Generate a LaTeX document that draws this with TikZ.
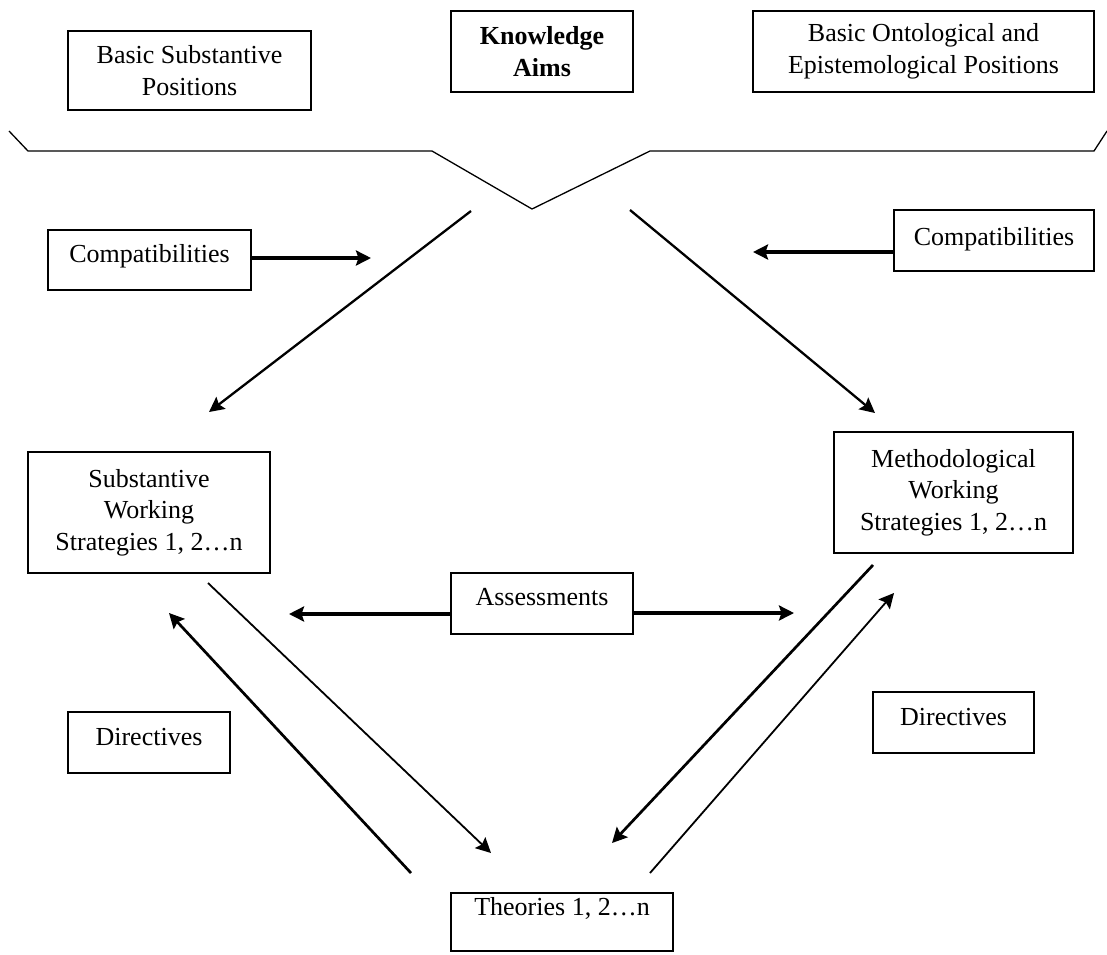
\documentclass[tikz,border=0pt]{standalone}
\usepackage{fontspec}
\setmainfont{Liberation Serif}
\usetikzlibrary{arrows.meta}
\begin{document}
\begin{tikzpicture}[x=1pt,y=-1pt,
  txt/.style={font=\fontsize{26pt}{31.5pt}\selectfont},
  box/.style={txt, draw, line width=1.9pt, inner sep=0pt},
  multibox/.style={box, align=center},
  onebox/.style={box, anchor=base},
  brace/.style={line width=1.3pt, line join=miter},
  tip/.style={-{Stealth[length=15pt,width=15pt,inset=2.5pt]}},
  link/.style={tip, line width=2.3pt},
  thinlink/.style={tip, line width=1.8pt},
  boldlink/.style={tip, line width=3.2pt}
]
\useasboundingbox (0,0) rectangle (1107,954);

% top row of positions and aims
\node[multibox, minimum width=243pt, minimum height=79pt] (bsp) at (189.5,70.5)
  {Basic Substantive\\Positions};
\node[multibox, minimum width=182pt, minimum height=81pt,
  font=\fontsize{26pt}{31.5pt}\selectfont\bfseries] (ka) at (542,51.5)
  {Knowledge\\Aims};
\node[multibox, minimum width=341pt, minimum height=81pt] (bo) at (923.5,51.5)
  {Basic Ontological and\\Epistemological Positions};

% brace gathering the three top boxes
\coordinate (b1) at (9,131);
\coordinate (b2) at (28,151);
\coordinate (b3) at (432,151);
\coordinate (bt) at (532,209);
\coordinate (b4) at (650,151);
\coordinate (b5) at (1094,151);
\coordinate (b6) at (1107,131);
\draw[brace] (b1) -- (b2) -- (b3) -- (bt) -- (b4) -- (b5) -- (b6);

% compatibility labels
\node[onebox, minimum width=203pt, text height=32pt, text depth=28pt] (compL) at (149.5,262) {Compatibilities};
\node[onebox, minimum width=200pt, text height=35pt, text depth=26pt] (compR) at (994,245) {Compatibilities};
\coordinate (cLend) at (371,258);
\coordinate (cRend) at (753,252);
\draw[boldlink] ([yshift=2pt]compL.east) -- (cLend);
\draw[boldlink] ([yshift=-11.5pt]compR.west) -- (cRend);

% working strategies
\node[multibox, minimum width=242pt, minimum height=121pt] (sws) at (149,512.5)
  {Substantive\\Working\\Strategies 1, 2…n};
\node[multibox, minimum width=239pt, minimum height=121pt] (mws) at (953.5,492.5)
  {Methodological\\Working\\Strategies 1, 2…n};

% arrows from the aims down to the strategies
\coordinate (aL) at (471,211);
\coordinate (sL) at (209,412);
\coordinate (aR) at (630,210);
\coordinate (sR) at (875,413);
\draw[link] (aL) -- (sL);
\draw[link] (aR) -- (sR);

% assessments
\node[onebox, minimum width=182pt, text height=32pt, text depth=29pt] (assess) at (542,605) {Assessments};
\coordinate (asL) at (289,614);
\coordinate (asR) at (794,613);
\draw[boldlink] ([yshift=-10.5pt]assess.west) -- (asL);
\draw[boldlink] ([yshift=-9.5pt]assess.east) -- (asR);

% directives
\node[onebox, minimum width=162pt, text height=33pt, text depth=28pt] (dirL) at (149,745) {Directives};
\node[onebox, minimum width=161pt, text height=33pt, text depth=28pt] (dirR) at (953.5,725) {Directives};

% theories
\node[onebox, minimum width=222pt, text height=22pt, text depth=36pt] (theo) at (562,915) {Theories 1, 2…n};

% exchanges between strategies and theories
\coordinate (s1a) at (208,583);
\coordinate (t1a) at (491,853);
\coordinate (t1b) at (411,873);
\coordinate (s1b) at (169,613);
\coordinate (m1a) at (873,565);
\coordinate (t2a) at (612,843);
\coordinate (t2b) at (650,873);
\coordinate (m1b) at (894,593);
\draw[thinlink] (s1a) -- (t1a);
\draw[link, line width=2.7pt] (t1b) -- (s1b);
\draw[link, line width=2.7pt] (m1a) -- (t2a);
\draw[thinlink] (t2b) -- (m1b);
\end{tikzpicture}
\end{document}
